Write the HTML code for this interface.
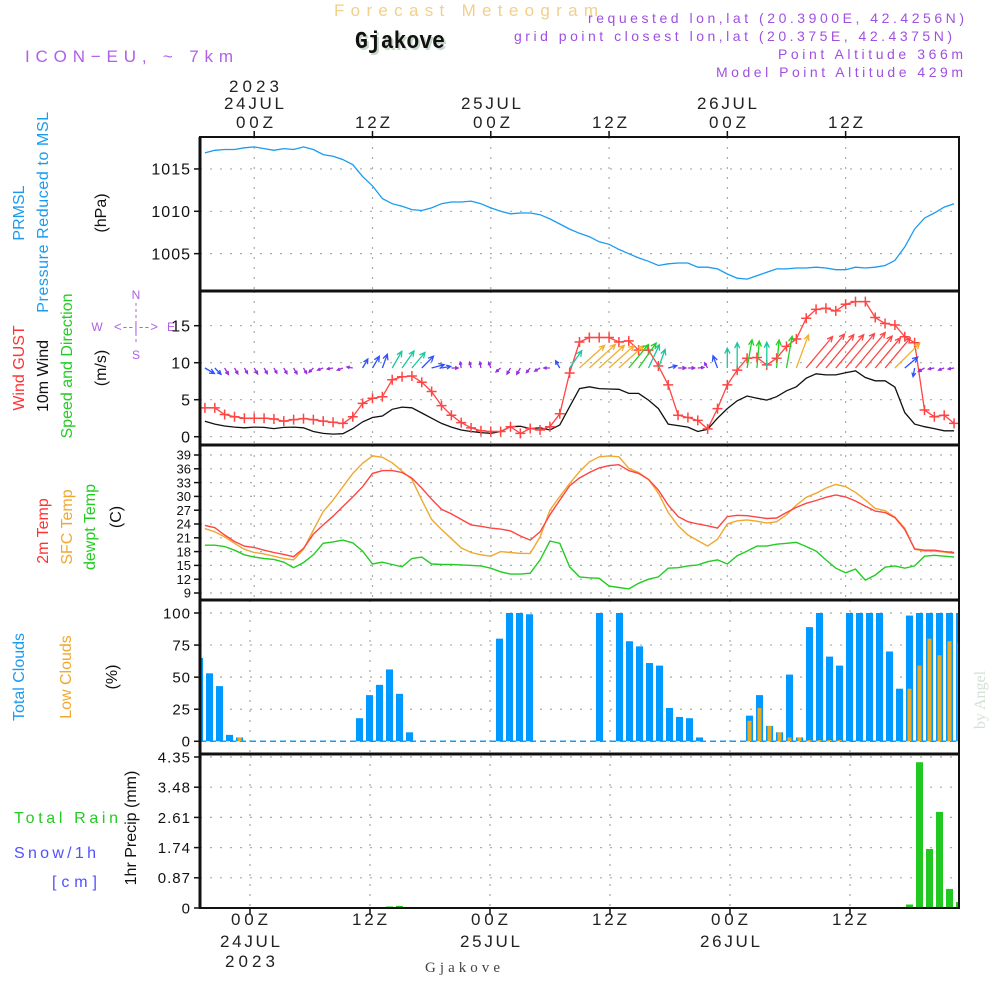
<!DOCTYPE html>
<html><head><meta charset="utf-8"><style>
html,body{margin:0;padding:0;background:#fff;}
svg{display:block;font-family:"Liberation Sans",sans-serif;}
</style></head><body>
<svg id="chart" width="1000" height="1000" viewBox="0 0 1000 1000" xmlns="http://www.w3.org/2000/svg">
<defs>
<clipPath id="c1"><rect x="200" y="137" width="759" height="154"/></clipPath>
<clipPath id="c2"><rect x="200" y="291" width="759" height="154"/></clipPath>
<clipPath id="c3"><rect x="200" y="445" width="759" height="155"/></clipPath>
<clipPath id="c4"><rect x="200" y="600" width="759" height="154"/></clipPath>
<clipPath id="c5"><rect x="200" y="754" width="759" height="154"/></clipPath>
</defs>
<text x="334" y="16" font-size="17" fill="#f3cf8a" textLength="264" lengthAdjust="spacing">Forecast Meteogram</text>
<text x="357" y="50" font-size="24" font-weight="bold" font-family="Liberation Mono, monospace" fill="#c8d8c8" textLength="90" lengthAdjust="spacingAndGlyphs">Gjakove</text>
<text x="355" y="48" font-size="24" font-weight="bold" font-family="Liberation Mono, monospace" fill="#111" textLength="90" lengthAdjust="spacingAndGlyphs">Gjakove</text>
<text x="25" y="62" font-size="17" fill="#b060e8" textLength="208" lengthAdjust="spacing">ICON−EU, ~ 7km</text>
<g font-size="14" fill="#a050e0">
<text x="588" y="23" textLength="376" lengthAdjust="spacing">requested lon,lat (20.3900E, 42.4256N)</text>
<text x="514" y="41" textLength="438" lengthAdjust="spacing">grid point closest lon,lat (20.375E, 42.4375N)</text>
<text x="778" y="59" textLength="185" lengthAdjust="spacing">Point Altitude 366m</text>
<text x="716" y="77" textLength="247" lengthAdjust="spacing">Model Point Altitude 429m</text>
</g>
<g font-size="17" fill="#222">
<text x="229" y="92" textLength="50" lengthAdjust="spacing">2023</text><text x="224" y="109" textLength="60" lengthAdjust="spacing">24JUL</text><text x="236" y="128" textLength="37" lengthAdjust="spacing">00Z</text>
<text x="355" y="128" textLength="35" lengthAdjust="spacing">12Z</text>
<text x="461" y="109" textLength="60" lengthAdjust="spacing">25JUL</text><text x="473" y="128" textLength="37" lengthAdjust="spacing">00Z</text>
<text x="592" y="128" textLength="35" lengthAdjust="spacing">12Z</text>
<text x="697" y="109" textLength="60" lengthAdjust="spacing">26JUL</text><text x="709" y="128" textLength="37" lengthAdjust="spacing">00Z</text>
<text x="828" y="128" textLength="35" lengthAdjust="spacing">12Z</text>
</g>
<g font-size="17" fill="#222">
<text x="231" y="925" textLength="37" lengthAdjust="spacing">00Z</text><text x="220" y="947" textLength="60" lengthAdjust="spacing">24JUL</text><text x="225" y="967" textLength="50" lengthAdjust="spacing">2023</text>
<text x="352" y="925" textLength="35" lengthAdjust="spacing">12Z</text>
<text x="471" y="925" textLength="37" lengthAdjust="spacing">00Z</text><text x="460" y="947" textLength="60" lengthAdjust="spacing">25JUL</text>
<text x="592" y="925" textLength="35" lengthAdjust="spacing">12Z</text>
<text x="711" y="925" textLength="37" lengthAdjust="spacing">00Z</text><text x="700" y="947" textLength="60" lengthAdjust="spacing">26JUL</text>
<text x="832" y="925" textLength="35" lengthAdjust="spacing">12Z</text>
</g>
<text x="425" y="972" font-size="15" font-family="Liberation Serif, serif" fill="#444" textLength="75" lengthAdjust="spacing">Gjakove</text>

<g font-size="16" text-anchor="middle">
<text transform="translate(24,213) rotate(-90)" fill="#1a9bf0">PRMSL</text>
<text transform="translate(48,212) rotate(-90)" fill="#1a9bf0" letter-spacing="0.6">Pressure Reduced to MSL</text>
<text transform="translate(106,213) rotate(-90)" fill="#111">(hPa)</text>
<text transform="translate(24,368) rotate(-90)" fill="#ff3333">Wind GUST</text>
<text transform="translate(48,376) rotate(-90)" fill="#111">10m Wind</text>
<text transform="translate(72,366) rotate(-90)" fill="#22cc22">Speed and Direction</text>
<text transform="translate(106,368) rotate(-90)" fill="#111">(m/s)</text>
<text transform="translate(48,531) rotate(-90)" fill="#ff3333">2m Temp</text>
<text transform="translate(72,527) rotate(-90)" fill="#f0a830">SFC Temp</text>
<text transform="translate(95,527) rotate(-90)" fill="#22cc22">dewpt Temp</text>
<text transform="translate(121,517) rotate(-90)" fill="#111">(C)</text>
<text transform="translate(24,677) rotate(-90)" fill="#1a9bf0">Total Clouds</text>
<text transform="translate(71,677) rotate(-90)" fill="#f0a830">Low Clouds</text>
<text transform="translate(117,677) rotate(-90)" fill="#111">(%)</text>
<text transform="translate(136,828) rotate(-90)" fill="#111">1hr Precip (mm)</text>
</g>
<text x="14" y="823" font-size="16" fill="#22cc22" textLength="104" lengthAdjust="spacing">Total   Rain</text>
<text x="14" y="858" font-size="16" fill="#5050ff" textLength="82" lengthAdjust="spacing">Snow/1h</text>
<text x="52" y="887" font-size="16" fill="#5050ff" textLength="45" lengthAdjust="spacing">[cm]</text>
<text transform="translate(985,700) rotate(-90)" font-size="16" text-anchor="middle" font-family="Liberation Serif, serif" fill="#d5e0d5">by Angel</text>

<g fill="#b060e0" stroke="none" font-size="12" text-anchor="middle">
<text x="136" y="299">N</text><text x="136" y="359">S</text><text x="97" y="331">W</text><text x="171" y="331">E</text>
<text x="136" y="331" font-size="13" textLength="44" lengthAdjust="spacing">&lt;--|--&gt;</text>
<line x1="136" y1="303" x2="136" y2="345" stroke="#b060e0" stroke-dasharray="3,3"/>
</g>

<g id="grid"></g>
<g id="marks"></g>
<g id="frame"></g>
</svg>
<script>
const hours = [];
for (let h = -5; h <= 71; h++) hours.push(h);
const pressure = [1016.9,1017.2,1017.3,1017.3,1017.5,1017.6,1017.4,1017.2,1017.4,1017.3,1017.6,1017.3,1016.7,1016.5,1016.1,1015.5,1014.1,1013,1011.5,1010.9,1010.6,1010.2,1010.1,1010.4,1010.9,1011.1,1011.1,1011.2,1010.9,1010.4,
1010,1009.7,1009.8,1009.8,1009.6,1009.1,1008.5,1007.9,1007.4,1007,1006.4,1006.1,1005.5,1005,1004.5,1004.1,1003.6,1003.8,1003.9,1003.9,1003.4,1003.4,1003.2,1002.6,1002.1,1002,1002.4,1002.8,1003.2,1003.2,1003.3,1003.3,1003.4,1003.3,1003.1,1003.1,1003.4,1003.3,1003.4,1003.6,1004.2,1005.8,1007.9,1009.2,1009.8,1010.5,1010.9];
const windGust = [3.9,3.9,3.0,2.7,2.5,2.5,2.5,2.4,2.1,2.3,2.45,2.3,2.1,1.95,1.8,2.7,4.5,5.2,5.4,7.7,8.1,8.2,7.35,6.1,4.2,2.9,1.9,1.2,0.8,0.7,
0.7,1.35,0.45,1.1,0.9,1.35,3.1,8.6,12.8,13.4,13.4,13.4,12.8,12.95,11.7,11.7,9.55,7.0,2.9,2.6,2.2,1.05,3.8,7.0,9.0,10.6,10.7,9.7,10.6,12.2,13.2,16,17.2,17.35,17.0,17.9,18.25,18.25,16.1,15.3,15.1,13.5,12.7,3.6,2.7,2.9,1.8];
const wind10m = [2.1,1.7,1.45,1.3,1.2,1.3,1.25,1.1,1.25,1.3,1.2,0.7,0.45,0.35,0.4,1.1,2.0,2.6,2.8,3.7,4.0,3.9,3.2,2.5,1.8,1.3,0.9,0.7,0.55,0.45,
0.7,1.35,1.4,1.1,1.2,0.9,1.6,4.05,6.5,6.75,6.5,6.45,6.4,5.85,5.85,4.95,3.8,1.7,1.5,1.3,0.7,1.0,2.5,3.8,4.85,5.5,5.2,4.95,5.4,6.2,6.75,7.9,8.5,8.35,8.35,8.65,8.9,8.0,7.55,7.55,6.7,3.25,1.7,1.35,1.1,0.8,0.8];
const windDir = [120,135,150,150,150,150,150,150,150,150,150,225,250,260,250,280,30,30,20,30,35,40,45,75,80,90,350,345,350,340,
230,210,210,220,240,270,330,35,48,48,48,48,48,40,35,25,20,75,90,90,85,330,340,0,0,10,5,0,5,10,20,40,40,40,40,40,40,40,40,40,45,50,190,240,260,250,260];
const temp2m = [23.7,23.2,21.6,20.2,19.2,18.9,18.3,17.8,17.4,16.9,18.7,21.8,23.8,25.7,27.8,29.9,32.1,35.0,35.6,35.6,35.2,34,31.8,29.4,27.2,26.2,25,23.8,23.5,23.1,22.9,22.5,21.4,20.5,22.3,26,29.2,32.3,34,35.2,
36.2,36.7,36.9,35.6,35,33.7,31.4,28.1,25.6,24.5,24,23.6,23.1,25.6,25.9,25.8,25.5,25.2,25.3,26.5,27.6,28.5,29.1,29.8,30.3,29.9,29,27.9,26.8,26.5,25.4,22.8,18.6,18.3,18.3,18,17.8];
const tempSfc = [23,22.3,21.2,19.8,18.5,17.8,17.5,17,16.5,16.2,18.5,22.7,26.7,29.2,32.1,35,37.2,38.8,38.5,37.3,35.5,33.7,29.2,25,22.8,20.8,18.8,17.8,17.3,17,18,17.8,17.6,17.6,21.2,27,30,32.8,35.4,37.5,
38.6,38.8,38.6,36.1,35.2,33.7,30.7,26.5,23.6,21.6,20.4,19.2,20.7,24,24.7,24.9,24.6,24.2,24.5,26,28.1,29.8,30.7,31.8,32.6,32.1,30.9,29.2,27.4,26.9,25.5,23.1,18.5,18.1,18.1,17.9,17.6];
const dewpoint = [19.4,19.4,19.1,18.3,17.3,16.8,16.5,16.3,15.7,14.5,15.6,17.3,19.8,20.1,20.5,19.9,18.1,15.3,15.7,15.2,14.7,16.5,16.8,15.3,15.2,15.2,15.1,15,14.9,14.4,13.6,13.1,13.1,13.3,16.2,20.3,19.8,14.7,12.5,12.3,
12.2,10.5,10.2,9.9,11.1,12,12.5,14.4,14.5,14.9,15.1,15.8,16.2,15.3,17.1,18.1,19.2,19.2,19.6,19.8,20,19.1,18.1,16.2,14.4,13.4,14.2,11.8,12.9,14.6,14.9,14.4,14.9,17,17.2,17,16.8];
const totalClouds = [65,53,43,5,3,0,0,0,0,0,0,0,0,0,0,0,18,36,44,56,37,7,0,0,0,0,0,0,0,0,
80,100,100,99,0,0,0,0,0,0,100,0,100,78,74,61,59,26,19,18,3,0,0,0,0,20,36,12,7,52,3,89,100,66,59,100,100,100,100,70,41,98,100,100,100,100,100];
const lowClouds = [0,0,0,0,3,0,0,0,0,0,0,0,0,0,0,0,0,0,0,0,0,0,0,0,0,0,0,0,0,0,
0,0,0,0,0,0,0,0,0,0,0,0,0,0,0,0,0,0,0,0,0,0,0,0,0,16,26,12,7,3,3,1,1,1,1,0,0,0,0,0,0,41,59,80,67,78,77];
const precip = [0,0,0,0,0,0,0,0,0,0,0,0,0,0,0,0,0,0,0,0.03,0.06,0,0,0,0,0,0,0,0,0,
0,0,0,0,0,0,0,0,0,0,0,0,0,0,0,0,0,0,0,0,0,0,0,0,0,0,0,0,0,0,0,0,0,0,0,0,0,0,0,0,0,0.1,4.2,1.7,2.77,0.55,0.17];
const pressureTicks = [1005,1010,1015];
const windTicks = [0,5,10,15];
const tempTicks = [9,12,15,18,21,24,27,30,33,36,39];
const cloudTicks = [0,25,50,75,100];
const precipTicks = [0,0.87,1.74,2.61,3.48,4.35];
const gridHours = [0,12,24,36,48,60];

const NS = 'http://www.w3.org/2000/svg';
const xL = h => 200 + (h + 5.5) * 9.857;
const xB = h => 249.5 + 10 * h;
const yP = p => 211.3 - (p - 1010) * 8.47;
const yW = w => 436.7 - 7.4 * w;
const yT = t => 593 - (t - 9) * 4.6;
const yC = c => 741.3 - c * 1.283;
const yR = r => 908 - r * 34.71;

function mk(tag, attrs, parent) {
  const e = document.createElementNS(NS, tag);
  for (const k in attrs) e.setAttribute(k, attrs[k]);
  parent.appendChild(e);
  return e;
}
const grid = document.getElementById('grid');
const marks = document.getElementById('marks');
const frame = document.getElementById('frame');

const panels = [
  {top:137,bot:291,ticks:pressureTicks,y:yP,x:xL,fs:16,name:'pressure',fmt:v=>String(v)},
  {top:291,bot:445,ticks:windTicks,y:yW,x:xL,fs:16,name:'wind',fmt:v=>String(v)},
  {top:445,bot:600,ticks:tempTicks,y:yT,x:xL,fs:13,name:'temp',fmt:v=>String(v)},
  {top:600,bot:754,ticks:cloudTicks,y:yC,x:xB,fs:15,name:'cloud',fmt:v=>String(v)},
  {top:754,bot:908,ticks:precipTicks,y:yR,x:xB,fs:15,name:'precip',fmt:v=>v===0?'0':v.toFixed(2)}
];
panels.forEach(p => {
  gridHours.forEach(h => {
    const gx = p.x(h) + (p.x === xB ? 0.5 : 0);
    const l = mk('line', {x1:gx,x2:gx,y1:p.top,y2:p.bot,stroke:'#aaa','stroke-width':1.2,'stroke-dasharray':'2,8'}, grid);
    
    
  });
  p.ticks.forEach(v => {
    const yy = p.y(v);
    const l = mk('line', {x1:200,x2:959,y1:yy,y2:yy,stroke:'#aaa','stroke-width':1.2,'stroke-dasharray':'2,8'}, grid);
    
    
    const tk = mk('line', {x1:194,x2:200,y1:yy,y2:yy,stroke:'#111','stroke-width':1.5}, frame);
    
    
    const t = mk('text', {x:191,y:yy+p.fs*0.36,'font-size':p.fs,'text-anchor':'end',fill:'#111','letter-spacing':p.fs>14?1:0}, frame);
    t.textContent = p.fmt(v);
    
    
  });
});

function line(arr, xf, yf, color, clip, name, w) {
  const d = arr.map((v,i) => (i?'L':'M') + xf(hours[i]).toFixed(1) + ',' + yf(v).toFixed(1)).join('');
  const e = mk('path', {d:d,fill:'none',stroke:color,'stroke-width':w||1.3,'clip-path':'url(#'+clip+')'}, marks);
  
  
}
line(pressure, xL, yP, '#1a9bf0', 'c1', 'pressure-line');
line(wind10m, xL, yW, '#111', 'c2', 'wind-10m-line');
line(windGust, xL, yW, '#ff4444', 'c2', 'wind-gust-line');
windGust.forEach((v,i) => {
  const cx = xL(hours[i]), cy = yW(v);
  const e = mk('path', {d:`M${cx-5},${cy}H${cx+5}M${cx},${cy-5}V${cy+5}`,stroke:'#ff4444','stroke-width':1.5,'clip-path':'url(#c2)'}, marks);
  
  
});
function windColor(s) {
  if (s < 1.6) return '#9a2ee0';
  if (s < 3.3) return '#3050ff';
  if (s < 5.0) return '#18c8a0';
  if (s < 6.3) return '#22d022';
  if (s < 7.0) return '#f0b030';
  return '#ff4444';
}
windDir.forEach((b,i) => {
  const s = wind10m[i];
  const len = Math.max(6, s * 5.2);
  const x0 = xL(hours[i]), y0 = 368;
  const r = b * Math.PI / 180;
  const x1 = x0 + Math.sin(r) * len, y1 = y0 - Math.cos(r) * len;
  const hl = Math.min(6, len * 0.5);
  const a1 = r + Math.PI - 0.45, a2 = r + Math.PI + 0.45;
  const c = windColor(s);
  const d = `M${x0.toFixed(1)},${y0}L${x1.toFixed(1)},${y1.toFixed(1)}M${(x1+Math.sin(a1)*hl).toFixed(1)},${(y1-Math.cos(a1)*hl).toFixed(1)}L${x1.toFixed(1)},${y1.toFixed(1)}L${(x1+Math.sin(a2)*hl).toFixed(1)},${(y1-Math.cos(a2)*hl).toFixed(1)}`;
  const e = mk('path', {d:d,fill:'none',stroke:c,'stroke-width':1.3,'clip-path':'url(#c2)'}, marks);
  
  
});
line(dewpoint, xL, yT, '#22cc22', 'c3', 'dewpoint-line', 1.4);
line(tempSfc, xL, yT, '#f0a830', 'c3', 'sfc-temp-line', 1.4);
line(temp2m, xL, yT, '#ff4444', 'c3', 'temp-2m-line', 1.4);

const base = mk('line', {x1:200,x2:959,y1:yC(0),y2:yC(0),stroke:'#1a9bf0','stroke-width':1.5,'stroke-dasharray':'6,4'}, marks);


totalClouds.forEach((v,i) => {
  if (v <= 0) return;
  const cx = xB(hours[i]);
  const e = mk('rect', {x:cx-3.5,y:yC(v),width:7,height:yC(0)-yC(v),fill:'#0099ff','clip-path':'url(#c4)'}, marks);
  
  
});
lowClouds.forEach((v,i) => {
  if (v <= 0) return;
  const cx = xB(hours[i]);
  const e = mk('rect', {x:cx-2,y:yC(v),width:4,height:yC(0)-yC(v),fill:'#e8a828','clip-path':'url(#c4)'}, marks);
  
  
});
precip.forEach((v,i) => {
  if (v <= 0) return;
  const cx = xB(hours[i]);
  const h = Math.max(1.5, yR(0)-yR(v));
  const e = mk('rect', {x:cx-3.5,y:yR(0)-h,width:7,height:h,fill:'#22c822','clip-path':'url(#c5)'}, marks);
  
  
});

[291,445,600,754].forEach(yy => {
  const e = mk('line', {x1:200,x2:959,y1:yy,y2:yy,stroke:'#111','stroke-width':3}, frame);
  
  
});
const fr = mk('rect', {x:200,y:137,width:759,height:771,fill:'none',stroke:'#111','stroke-width':2}, frame);


const ax = mk('line', {x1:200,x2:200,y1:137,y2:908,stroke:'#111','stroke-width':3}, frame);


gridHours.forEach(h => {
  const t1 = mk('line', {x1:xL(h),x2:xL(h),y1:131,y2:137,stroke:'#111','stroke-width':1.5}, frame);
  
  
  const t2 = mk('line', {x1:xB(h)+0.5,x2:xB(h)+0.5,y1:908,y2:914,stroke:'#111','stroke-width':1.5}, frame);
  
  
});
</script>
</body></html>
